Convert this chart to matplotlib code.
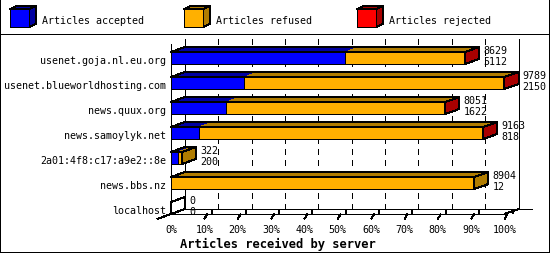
import matplotlib
matplotlib.use("Agg")
import matplotlib.pyplot as plt
from matplotlib.patches import Polygon, Rectangle
from matplotlib.transforms import blended_transform_factory

# ---------------- data ----------------
servers = ["usenet.goja.nl.eu.org", "usenet.blueworldhosting.com", "news.quux.org",
           "news.samoylyk.net", "2a01:4f8:c17:a9e2::8e", "news.bbs.nz", "localhost"]
received = [8629, 9789, 8051, 9163, 322, 8904, 0]
accepted = [5112, 2150, 1622, 818, 200, 12, 0]
refused = [3509, 7599, 6423, 8335, 122, 8892, 0]
rejected = [8, 40, 6, 10, 0, 0, 0]
series_names = ["Articles accepted", "Articles refused", "Articles rejected"]
x_ticks = [0, 10, 20, 30, 40, 50, 60, 70, 80, 90, 100]
x_title = "Articles received by server"

# ---------------- style ----------------
front_colors = ["#0000ff", "#ffb000", "#ff0000"]
dark_colors = ["#0000a0", "#b07c00", "#a80000"]
FONT = "DejaVu Sans Mono"
FS = 7.2
LW = 0.72
W, H = 550, 255
DEPTH_X, DEPTH_Y = 14, 5      # 3D offset in pixels
HALF_H = 6                     # half bar height in pixels
ROW0, PITCH = 59, 25           # first row centre / row pitch (pixels)
PLOT_L, PLOT_W = 171, 333.5
PLOT_T, PLOT_B = 40, 215

plt.rcParams["lines.scale_dashes"] = False

fig = plt.figure(figsize=(W / 100, H / 100), dpi=100)
fig.patch.set_facecolor("white")

ov = fig.add_axes([0, 0, 1, 1])
ov.set_xlim(0, W)
ov.set_ylim(H, 0)
ov.axis("off")

n = len(servers)
ax = fig.add_axes([PLOT_L / W, 1 - PLOT_B / H, PLOT_W / W, (PLOT_B - PLOT_T) / H])
ax.set_xlim(0, 100)
ax.set_ylim((PLOT_B - ROW0) / PITCH, (PLOT_T - ROW0) / PITCH)
ax.axis("off")

p0 = ax.transData.transform((0, 0))
p1 = ax.transData.transform((1, 1))
ux = p1[0] - p0[0]          # px per percent
uy = abs(p1[1] - p0[1])     # px per row
DX = DEPTH_X / ux
DY = -DEPTH_Y / uy
HH = HALF_H / uy

bl = blended_transform_factory(ax.transData, ov.transData)


def line(xs, ys, trans, **kw):
    kw.setdefault("color", "black")
    kw.setdefault("lw", LW)
    ov.plot(xs, ys, transform=trans, antialiased=False, solid_capstyle="butt",
            clip_on=False, **kw)


# ---------------- walls / grid ----------------
for p in x_ticks[1:-1]:
    line([p + DX, p + DX], [PLOT_T, 210], bl, linestyle=(0, (3.6, 3.6)), zorder=1)
line([DX, DX], [PLOT_T, 210], bl, zorder=1)
line([100 + DX, 100 + DX], [PLOT_T, 210], bl, zorder=1)
line([0, 0], [PLOT_T + DEPTH_Y, 215], bl, zorder=1)
line([DX, 100 + 2 * DX], [210, 210], bl, zorder=1)
line([0, 100], [215, 215], bl, zorder=1)
line([-DX, DX], [220, 210], bl, zorder=1)
line([100, 100 + DX], [215, 210], bl, zorder=1)
for p in x_ticks[1:]:
    line([p, p + 3 / ux], [220, 215], bl, zorder=1)
    line([p + 7 / ux, p + 9 / ux], [212.5, 212.5], bl, lw=1.5, zorder=1)

# ---------------- bars ----------------
scale = 100.0 / max(received)
for i in range(n):
    vals = [accepted[i], refused[i], rejected[i]]
    top, bot = i - HH, i + HH
    left = 0.0
    last = None
    for k, v in enumerate(vals):
        if v <= 0:
            continue
        w = v * scale
        r = left + w
        ax.add_patch(Polygon([(left, top), (r, top), (r + DX, top + DY), (left + DX, top + DY)],
                             closed=True, fc=dark_colors[k], ec="none",
                             antialiased=False, zorder=3, clip_on=False))
        ax.add_patch(Polygon([(left, top), (r, top), (r, bot), (left, bot)],
                             closed=True, fc=front_colors[k], ec="black", lw=LW,
                             antialiased=False, zorder=4, clip_on=False))
        left = r
        last = k
    end = left
    side_fc = dark_colors[last] if last is not None else "none"
    ax.add_patch(Polygon([(0, top), (end, top), (end + DX, top + DY), (DX, top + DY)],
                         closed=True, fc="none", ec="black", lw=LW,
                         antialiased=False, zorder=5, clip_on=False))
    ax.add_patch(Polygon([(end, top), (end + DX, top + DY), (end + DX, bot + DY), (end, bot)],
                         closed=True, fc=side_fc, ec="black", lw=LW,
                         antialiased=False, zorder=5, clip_on=False))
    if last is None:
        ax.add_patch(Polygon([(0, top), (0, bot)], closed=False, fill=False,
                             ec="black", lw=LW, antialiased=False, zorder=5, clip_on=False))
    # value labels
    tx = end + DX + 4 / ux
    ax.text(tx, i - 9 / uy, f"{received[i]}", ha="left", va="center_baseline",
            fontsize=FS, family=FONT, zorder=6)
    ax.text(tx, i + 2 / uy, f"{accepted[i]}", ha="left", va="center_baseline",
            fontsize=FS, family=FONT, zorder=6)
    # category label
    ax.text(-5 / ux, i + 1 / uy, servers[i], ha="right", va="center_baseline",
            fontsize=FS, family=FONT, zorder=6)

# ---------------- x tick labels / title ----------------
for p in x_ticks:
    ov.text(p, 229, f"{p}%", transform=bl, ha="center", va="center_baseline",
            fontsize=FS, family=FONT)
ov.text(278, 243, x_title, ha="center", va="center_baseline", fontsize=8.7,
        family=FONT, fontweight="bold")

# ---------------- legend ----------------
leg_x = [10, 184, 357]
for k, name in enumerate(series_names):
    x0, y0, cw, ch, dx, dy = leg_x[k], 10, 19, 18, 7, 3
    ov.add_patch(Polygon([(x0 + cw, y0), (x0 + cw + dx, y0 - dy), (x0 + cw + dx, y0 + ch - dy),
                          (x0 + cw, y0 + ch)], closed=True, fc=dark_colors[k], ec="black",
                         lw=LW, antialiased=False))
    ov.add_patch(Polygon([(x0, y0), (x0 + dx, y0 - dy), (x0 + cw + dx, y0 - dy), (x0 + cw, y0)],
                         closed=True, fc=dark_colors[k], ec="black", lw=LW, antialiased=False))
    ov.add_patch(Rectangle((x0, y0), cw, ch, fc=front_colors[k], ec="black", lw=LW,
                           antialiased=False))
    ov.text(x0 + 32, 20, name, ha="left", va="center_baseline", fontsize=FS, family=FONT)

# ---------------- frame ----------------
line([0, W - 1, W - 1, 0, 0], [0, 0, H - 2, H - 2, 0], ov.transData, zorder=10)
line([0, W - 1], [35, 35], ov.transData, zorder=10)

fig.savefig("out.png", dpi=100, facecolor="white")
